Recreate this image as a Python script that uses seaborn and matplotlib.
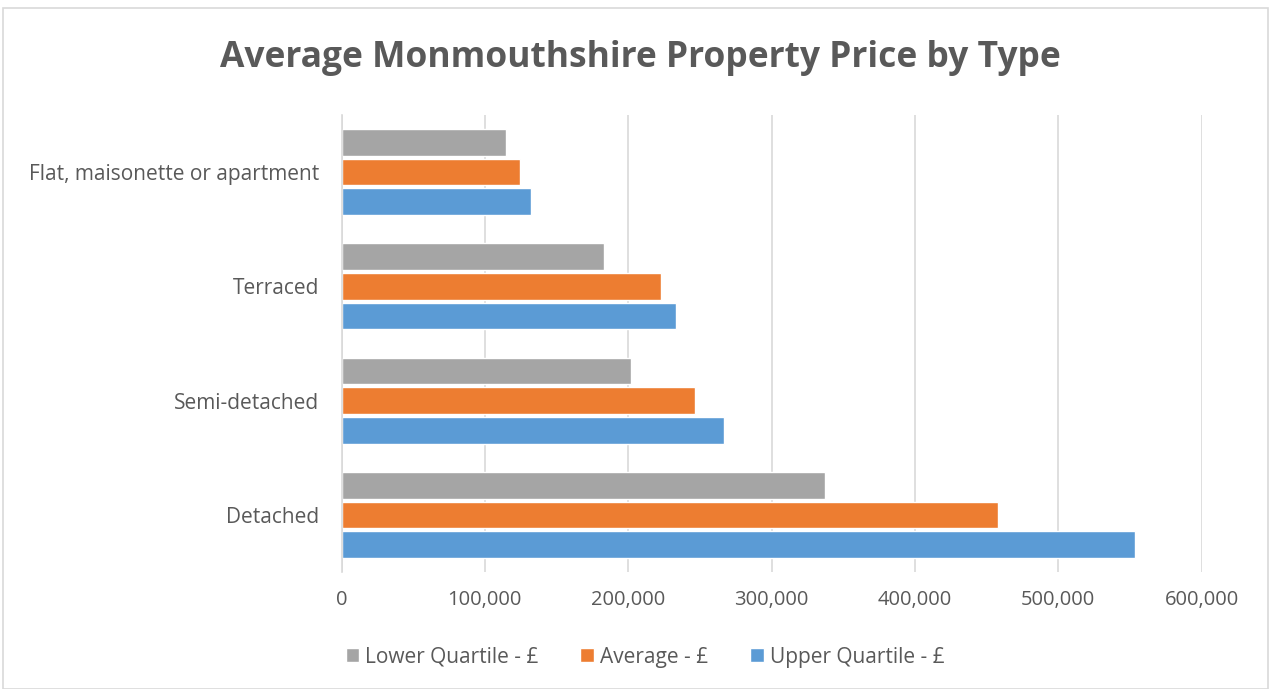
import matplotlib
matplotlib.use("Agg")
import matplotlib.pyplot as plt
import pandas as pd
import seaborn as sns
from matplotlib.patches import Rectangle
from matplotlib.ticker import FuncFormatter

# ====== DATA ======
CATEGORIES = ["Flat, maisonette or apartment", "Terraced", "Semi-detached", "Detached"]
SERIES = ["Lower Quartile - £", "Average - £", "Upper Quartile - £"]
LOWER = [114800, 183200, 202000, 337400]
AVERAGE = [124600, 223000, 246700, 458100]
UPPER = [132200, 233400, 266900, 553800]
X_TICKS = [0, 100000, 200000, 300000, 400000, 500000, 600000]
COLORS = ["#A5A5A5", "#ED7D31", "#5B9BD5"]
TEXT = "#595959"
# ==================

df = pd.DataFrame({
    "Type": CATEGORIES * 3,
    "Series": [SERIES[0]] * 4 + [SERIES[1]] * 4 + [SERIES[2]] * 4,
    "Price": LOWER + AVERAGE + UPPER,
})

sns.set_theme(style="white")
plt.rcParams["font.family"] = ["Open Sans", "DejaVu Sans"]

fig = plt.figure(figsize=(12.71, 6.89), dpi=100)
ax = fig.add_axes([341.5 / 1271, 1 - 572 / 689, 860 / 1271, 457 / 689])

sns.barplot(
    data=df, y="Type", x="Price", hue="Series",
    order=CATEGORIES, hue_order=SERIES, palette=COLORS,
    orient="h", width=0.78, gap=0.1, saturation=1, ax=ax, legend=True,
)

ax.set_xlim(0, 600000)
ax.set_xticks(X_TICKS)
ax.xaxis.set_major_formatter(FuncFormatter(lambda v, _: f"{int(v):,}"))
ax.grid(axis="x", color="#D9D9D9", linewidth=1.2)
ax.set_axisbelow(True)
for side in ["top", "right", "bottom"]:
    ax.spines[side].set_visible(False)
ax.spines["left"].set_color("#D9D9D9")
ax.spines["left"].set_linewidth(1.2)
ax.set_xlabel("")
ax.set_ylabel("")
ax.tick_params(axis="x", length=0, pad=13, labelsize=14.5, labelcolor=TEXT)
ax.tick_params(axis="y", length=0, pad=16, labelsize=15, labelcolor=TEXT)

handles, labels = ax.get_legend_handles_labels()
ax.legend_.remove()
fig.legend(handles, labels, loc="center", bbox_to_anchor=(645 / 1271, 1 - 657 / 689),
           ncol=3, frameon=False, fontsize=15, labelcolor=TEXT,
           handlelength=0.65, handleheight=0.65, handletextpad=0.3, columnspacing=2.0)

fig.text(640 / 1271, 1 - 58 / 689, "Average Monmouthshire Property Price by Type",
         ha="center", va="center", fontsize=25.5, fontweight="bold", color=TEXT)

fig.patches.append(Rectangle((3 / 1271, 0), 1265 / 1271, 1 - 8 / 689, transform=fig.transFigure,
                             fill=False, edgecolor="#D9D9D9", linewidth=1.2))

fig.savefig("out.png", dpi=100)
